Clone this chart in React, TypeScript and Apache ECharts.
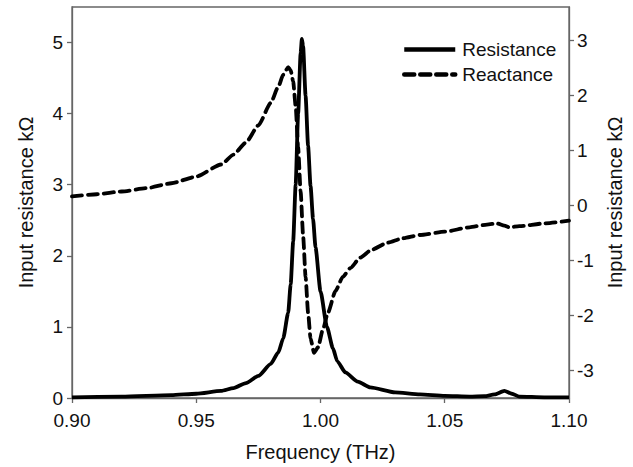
import React, { useEffect, useRef } from "react";
import * as echarts from "echarts";

const freqR = [0.9, 0.92, 0.94, 0.95, 0.96, 0.965, 0.97, 0.975, 0.98, 0.983, 0.985, 0.987, 0.988, 0.989, 0.99, 0.991, 0.992, 0.9925, 0.993, 0.994, 0.995, 0.996, 0.997, 0.998, 1.0, 1.0026, 1.005, 1.0067, 1.01, 1.015, 1.02, 1.03, 1.04, 1.05, 1.06, 1.066, 1.07, 1.074, 1.077, 1.08, 1.09, 1.1];
const resistance = [0.01, 0.02, 0.04, 0.06, 0.1, 0.14, 0.21, 0.31, 0.48, 0.64, 0.84, 1.2, 1.6, 2.2, 3.0, 4.0, 4.85, 5.05, 4.95, 4.25, 3.55, 2.98, 2.52, 2.12, 1.5, 1.0, 0.7, 0.52, 0.36, 0.23, 0.15, 0.08, 0.05, 0.03, 0.02, 0.025, 0.05, 0.1, 0.06, 0.02, 0.01, 0.01];

const freqX = [0.9, 0.91, 0.92, 0.93, 0.94, 0.95, 0.96, 0.965, 0.97, 0.975, 0.98, 0.983, 0.985, 0.987, 0.988, 0.989, 0.99, 0.991, 0.992, 0.993, 0.994, 0.995, 0.996, 0.9974, 0.999, 1.001, 1.003, 1.006, 1.009, 1.012, 1.016, 1.0205, 1.027, 1.033, 1.04, 1.05, 1.06, 1.067, 1.071, 1.074, 1.076, 1.08, 1.09, 1.1];
const reactance = [0.16, 0.2, 0.25, 0.31, 0.4, 0.52, 0.74, 0.92, 1.14, 1.45, 1.86, 2.15, 2.37, 2.51, 2.45, 2.25, 1.8, 1.05, 0.25, -0.55, -1.3, -1.95, -2.42, -2.68, -2.58, -2.25, -1.95, -1.56, -1.3, -1.14, -0.95, -0.81, -0.68, -0.6, -0.54, -0.48, -0.4, -0.35, -0.33, -0.37, -0.4, -0.38, -0.33, -0.28];

const leftTicks = [0, 1, 2, 3, 4, 5];
const rightTicks = [-3, -2, -1, 0, 1, 2, 3];

const FONT = "Liberation Sans";
const AXIS_COLOR = "#666";
const TEXT_COLOR = "#111";

export default function App() {
  const ref = useRef<HTMLDivElement>(null);
  useEffect(() => {
    if (!ref.current) return;
    const chart = echarts.init(ref.current, undefined, { renderer: "svg" });
    const axisLine = { show: true, lineStyle: { color: AXIS_COLOR, width: 1.3 } };
    const tick = { show: true, inside: false, length: 5, lineStyle: { color: AXIS_COLOR, width: 1.3 } };
    chart.setOption({
      animation: false,
      backgroundColor: "#fff",
      textStyle: { fontFamily: FONT },
      grid: {
        left: 72,
        right: 64,
        top: 7,
        bottom: 68,
        show: true,
        borderColor: AXIS_COLOR,
        borderWidth: 1.3,
        backgroundColor: "transparent",
      },
      legend: {
        orient: "vertical",
        left: 402,
        top: 40,
        padding: 0,
        itemWidth: 51,
        itemHeight: 14,
        itemGap: 6,
        itemStyle: { opacity: 0 },
        lineStyle: { width: 4.5 },
        textStyle: { fontFamily: FONT, fontSize: 19, color: TEXT_COLOR, padding: [0, 0, 0, 2] },
        data: ["Resistance", "Reactance"],
      },
      xAxis: {
        type: "value",
        min: 0.9,
        max: 1.1,
        interval: 0.05,
        name: "Frequency (THz)",
        nameLocation: "middle",
        nameGap: 44,
        nameTextStyle: { fontFamily: FONT, fontSize: 20, color: TEXT_COLOR },
        axisLine,
        axisTick: tick,
        axisLabel: {
          fontFamily: FONT,
          fontSize: 19,
          color: TEXT_COLOR,
          margin: 13,
          formatter: (v: number) => v.toFixed(2),
        },
        splitLine: { show: false },
      },
      yAxis: [
        {
          type: "value",
          min: 0,
          max: 5.5,
          position: "left",
          name: "Input resistance kΩ",
          nameLocation: "middle",
          nameGap: 36,
          nameRotate: 90,
          nameTextStyle: { fontFamily: FONT, fontSize: 20, color: TEXT_COLOR },
          axisLine,
          axisTick: { ...tick, customValues: leftTicks },
          axisLabel: { fontFamily: FONT, fontSize: 19, color: TEXT_COLOR, margin: 9, customValues: leftTicks },
          splitLine: { show: false },
        },
        {
          type: "value",
          min: -3.5,
          max: 3.6,
          position: "right",
          name: "Input resistance kΩ",
          nameLocation: "middle",
          nameGap: 36,
          nameRotate: 90,
          nameTextStyle: { fontFamily: FONT, fontSize: 20, color: TEXT_COLOR },
          axisLine,
          axisTick: { ...tick, customValues: rightTicks },
          axisLabel: { fontFamily: FONT, fontSize: 19, color: TEXT_COLOR, margin: 8, customValues: rightTicks },
          splitLine: { show: false },
        },
      ],
      series: [
        {
          name: "Resistance",
          type: "line",
          yAxisIndex: 0,
          data: freqR.map((f, i) => [f, resistance[i]]),
          showSymbol: false,
          symbol: "none",
          smooth: 0.2,
          smoothMonotone: "x",
          lineStyle: { color: "#000", width: 3.8 },
          itemStyle: { color: "#000" },
          z: 3,
        },
        {
          name: "Reactance",
          type: "line",
          yAxisIndex: 1,
          data: freqX.map((f, i) => [f, reactance[i]]),
          showSymbol: false,
          symbol: "none",
          smooth: 0.2,
          smoothMonotone: "x",
          lineStyle: { color: "#000", width: 3.8, type: [10, 6], cap: "round" },
          itemStyle: { color: "#000" },
          z: 2,
        },
      ],
    });
    return () => chart.dispose();
  }, []);
  return (
    <div
      ref={ref}
      style={{ position: "absolute", left: 0, top: 0, width: 633, height: 467 }}
    />
  );
}
